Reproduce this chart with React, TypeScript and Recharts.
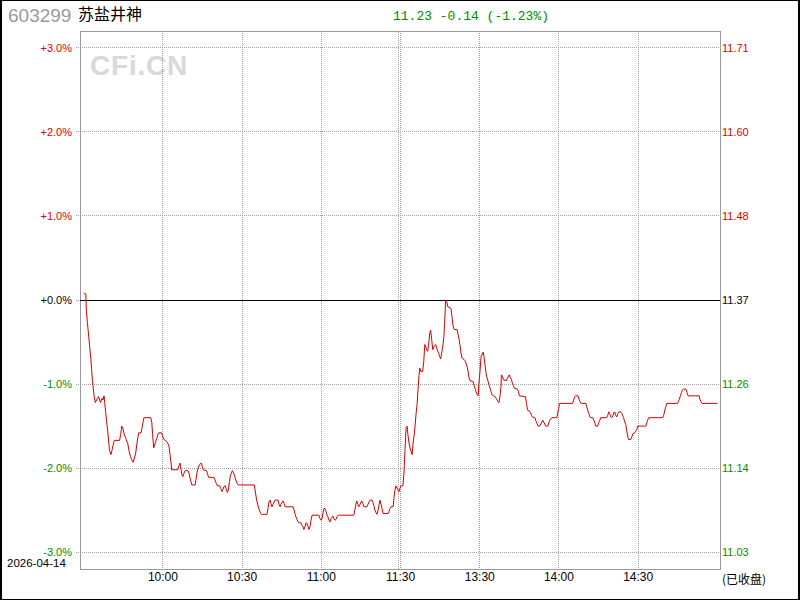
import React from 'react';
import { LineChart, Line, XAxis, YAxis, CartesianGrid, ReferenceLine, ReferenceArea } from 'recharts';

const stockCode = '603299';
const stockName = '苏盐井神';
const tradeDate = '2026-04-14';
const statusText = '(已收盘)';
const watermark = 'CFi.CN';
const prevClose = 11.37;
const lastPrice = 11.23;

const pctTicks = [-3, -2, -1, 0, 1, 2, 3];
const timeTicks = [30, 60, 90, 120, 150, 180, 210];
const timeLabels = ['10:00', '10:30', '11:00', '11:30', '13:30', '14:00', '14:30'];

// [minute index since 9:30 (lunch removed), change % vs previous close]
const morningSession: [number, number][] = [
  [0, 0.08], [0.8, 0.07], [1.0, -0.12], [1.4, -0.27], [1.9, -0.43], [2.3, -0.57], [2.7, -0.69], [3.0, -0.83],
  [3.3, -0.95], [3.7, -1.07], [4.0, -1.15], [4.4, -1.22], [5.2, -1.17], [5.6, -1.15], [6.4, -1.22], [6.9, -1.17],
  [7.3, -1.19], [7.7, -1.14], [8.0, -1.23], [8.3, -1.33], [8.7, -1.45], [9.1, -1.56], [9.5, -1.70], [9.8, -1.79],
  [10.3, -1.84], [10.7, -1.79], [11.1, -1.73], [11.6, -1.67], [13.6, -1.67], [14.0, -1.60], [14.4, -1.50], [14.8, -1.52],
  [15.2, -1.58], [15.6, -1.62], [16.1, -1.66], [16.7, -1.71], [17.2, -1.80], [17.7, -1.86], [18.2, -1.90], [18.7, -1.93],
  [19.2, -1.88], [19.7, -1.82], [20.1, -1.72], [20.5, -1.64], [20.8, -1.58], [21.7, -1.58], [22.1, -1.52], [22.5, -1.45],
  [22.8, -1.40], [25.4, -1.40], [25.8, -1.46], [26.1, -1.60], [26.5, -1.76], [26.9, -1.72], [27.3, -1.68], [27.8, -1.64],
  [28.1, -1.60], [28.5, -1.58], [29.5, -1.58], [29.9, -1.62], [30.4, -1.66], [31.3, -1.68], [31.8, -1.70], [32.3, -1.74],
  [32.7, -1.84], [33.1, -1.94], [33.3, -2.02], [35.6, -2.02], [36.1, -1.97], [36.5, -1.94], [36.8, -2.00], [37.2, -2.08],
  [37.6, -2.10], [38.0, -2.06], [38.4, -2.03], [39.5, -2.03], [39.9, -2.06], [40.3, -2.12], [40.6, -2.16], [41.0, -2.20],
  [42.2, -2.20], [42.5, -2.14], [42.9, -2.06], [43.3, -2.00], [43.8, -1.96], [44.6, -1.94], [44.9, -1.98], [45.3, -2.02],
  [46.5, -2.03], [46.8, -2.06], [47.3, -2.11], [49.3, -2.11], [49.7, -2.14], [50.2, -2.18], [50.6, -2.21], [51.5, -2.21],
  [51.9, -2.24], [52.4, -2.28], [52.8, -2.25], [53.1, -2.22], [53.6, -2.21], [54.0, -2.25], [54.4, -2.29], [54.8, -2.26],
  [55.2, -2.16], [55.5, -2.10], [55.9, -2.06], [56.3, -2.03], [56.8, -2.06], [57.2, -2.10], [57.6, -2.14], [58.1, -2.18],
  [58.6, -2.20], [64.6, -2.20], [65.2, -2.32], [65.5, -2.38], [65.9, -2.43], [66.3, -2.48], [67.0, -2.54], [67.4, -2.55],
  [69.4, -2.55], [69.8, -2.48], [70.2, -2.40], [70.6, -2.38], [70.9, -2.42], [71.3, -2.46], [71.7, -2.43], [72.5, -2.38],
  [73.6, -2.38], [74.0, -2.43], [74.4, -2.46], [74.7, -2.43], [75.5, -2.39], [75.9, -2.42], [76.3, -2.46], [79.3, -2.46],
  [79.7, -2.50], [80.0, -2.54], [80.4, -2.58], [80.8, -2.61], [81.2, -2.64], [81.6, -2.65], [82.3, -2.65], [82.7, -2.68],
  [83.1, -2.70], [83.4, -2.73], [83.8, -2.70], [84.2, -2.65], [84.6, -2.66], [85.0, -2.70], [85.3, -2.73], [85.7, -2.70],
  [86.1, -2.62], [86.5, -2.56], [89.1, -2.56], [89.5, -2.60], [89.9, -2.62], [90.3, -2.60], [90.6, -2.54], [91.0, -2.48],
  [91.4, -2.48], [91.8, -2.52], [92.2, -2.56], [92.5, -2.58], [92.9, -2.62], [93.3, -2.64], [93.7, -2.60], [94.4, -2.57],
  [94.8, -2.60], [95.2, -2.62], [95.6, -2.61], [95.9, -2.58], [96.4, -2.56], [102.3, -2.56], [102.7, -2.50], [103.0, -2.44],
  [103.4, -2.39], [103.8, -2.43], [104.2, -2.46], [104.5, -2.44], [105.3, -2.39], [105.7, -2.42], [106.1, -2.46], [107.3, -2.46],
  [107.7, -2.43], [108.1, -2.40], [108.5, -2.38], [109.2, -2.38], [109.6, -2.41], [110.0, -2.46], [110.3, -2.50], [110.7, -2.53],
  [111.1, -2.55], [111.5, -2.50], [111.9, -2.43], [112.2, -2.38], [112.6, -2.43], [113.0, -2.48], [113.4, -2.54], [115.3, -2.54],
  [115.6, -2.52], [116.0, -2.48], [116.4, -2.46], [117.2, -2.46], [117.5, -2.36], [117.9, -2.26], [118.3, -2.21], [118.7, -2.24],
  [119.4, -2.28], [119.8, -2.24], [120.2, -2.21],
];

const afternoonSession: [number, number][] = [
  [120.9, -2.21], [121.3, -2.06], [121.7, -1.78], [122.1, -1.52], [122.5, -1.50], [122.8, -1.60], [123.2, -1.70], [123.6, -1.76],
  [124.0, -1.80], [124.4, -1.84], [124.7, -1.72], [125.1, -1.62], [125.5, -1.50], [125.9, -1.35], [126.3, -1.23], [126.6, -1.07],
  [127.0, -0.90], [127.3, -0.81], [127.7, -0.85], [128.4, -0.85], [128.8, -0.73], [129.2, -0.53], [129.5, -0.55], [129.9, -0.59],
  [130.3, -0.61], [130.7, -0.51], [131.1, -0.39], [131.4, -0.36], [131.8, -0.47], [132.2, -0.59], [132.9, -0.54], [133.3, -0.53],
  [133.7, -0.57], [134.5, -0.64], [134.8, -0.67], [135.2, -0.70], [135.6, -0.63], [136.0, -0.55], [136.4, -0.45], [136.7, -0.27],
  [137.1, 0.00], [137.5, -0.02], [137.9, -0.08], [139.1, -0.10], [139.5, -0.20], [139.9, -0.31], [140.3, -0.35], [141.4, -0.35],
  [141.8, -0.41], [142.2, -0.47], [142.5, -0.53], [142.9, -0.63], [143.3, -0.69], [144.4, -0.72], [144.8, -0.75], [145.2, -0.79],
  [145.6, -0.85], [145.9, -0.92], [146.3, -0.96], [147.5, -0.97], [147.8, -1.01], [148.2, -1.05], [148.6, -1.09], [149.0, -1.12],
  [149.4, -1.14], [149.7, -0.99], [150.1, -0.85], [150.5, -0.67], [151.3, -0.62], [151.6, -0.67], [152.0, -0.77], [152.4, -0.87],
  [152.8, -0.93], [153.2, -0.97], [153.5, -1.01], [153.9, -1.05], [154.3, -1.09], [154.7, -1.13], [155.8, -1.15], [156.2, -1.17],
  [156.6, -1.19], [156.9, -1.21], [157.3, -1.22], [157.7, -1.14], [158.1, -1.01], [158.2, -0.89], [158.6, -0.91], [159.0, -0.95],
  [160.1, -0.96], [160.5, -0.93], [161.2, -0.89], [161.6, -0.92], [162.0, -0.95], [162.4, -0.99], [162.8, -1.02], [163.1, -1.05],
  [164.3, -1.06], [164.7, -1.09], [165.0, -1.14], [167.3, -1.15], [167.7, -1.23], [168.1, -1.31], [168.8, -1.32], [169.2, -1.34],
  [169.6, -1.37], [169.9, -1.39], [170.9, -1.40], [171.3, -1.44], [171.7, -1.47], [172.1, -1.50], [172.7, -1.50], [173.9, -1.43],
  [175.0, -1.50], [175.8, -1.50], [176.5, -1.43], [177.3, -1.40], [179.2, -1.40], [179.5, -1.35], [179.9, -1.29], [180.2, -1.23],
  [185.1, -1.23], [185.5, -1.20], [185.9, -1.15], [186.3, -1.14], [187.2, -1.14], [187.6, -1.18], [188.0, -1.21], [188.4, -1.23],
  [190.2, -1.23], [190.5, -1.27], [190.9, -1.31], [191.3, -1.35], [191.7, -1.39], [192.1, -1.40], [192.8, -1.40], [193.2, -1.43],
  [193.6, -1.46], [193.9, -1.50], [194.7, -1.50], [195.1, -1.46], [195.5, -1.43], [195.8, -1.40], [198.1, -1.40], [198.5, -1.37],
  [198.9, -1.33], [199.2, -1.35], [199.6, -1.39], [200.0, -1.40], [200.4, -1.38], [200.8, -1.34], [201.1, -1.33], [201.5, -1.37],
  [201.9, -1.39], [202.3, -1.35], [202.7, -1.33], [203.4, -1.33], [203.8, -1.35], [204.2, -1.38], [204.5, -1.40], [204.9, -1.45],
  [205.3, -1.48], [205.7, -1.56], [206.1, -1.63], [206.4, -1.66], [207.2, -1.66], [207.6, -1.63], [208.0, -1.59], [208.7, -1.58],
  [209.1, -1.56], [209.5, -1.54], [209.8, -1.50], [212.9, -1.50], [213.3, -1.46], [213.6, -1.43], [214.0, -1.40], [219.3, -1.40],
  [219.7, -1.37], [220.1, -1.31], [220.5, -1.27], [220.8, -1.23], [224.9, -1.23], [225.2, -1.21], [225.6, -1.18], [226.0, -1.14],
  [226.4, -1.10], [226.8, -1.07], [227.1, -1.06], [228.1, -1.06], [228.5, -1.10], [228.9, -1.14], [233.1, -1.14], [233.4, -1.18],
  [233.8, -1.21], [234.2, -1.23], [240.0, -1.23],
];

const data = [...morningSession, ...afternoonSession].map(([t, p]) => ({ t, p }));

const RED = '#e00000';
const GREEN = '#008c00';
const LINE_RED = '#d40000';
const GRID = '#a0a0a0';
const X_DOMAIN: [number, number] = [-1.4, 241];
const Y_DOMAIN: [number, number] = [-3.2, 3.2];

const colorFor = (v: number) => (v > 0 ? RED : v < 0 ? GREEN : '#000');
const fmtPct = (v: number) => (v > 0 ? '+' : v < 0 ? '-' : '+') + Math.abs(v).toFixed(1) + '%';
const fmtPrice = (v: number) => (prevClose * (1 + v / 100)).toFixed(2);

const LeftTick = (props: any) => {
  const { x, y, payload } = props;
  const v = payload.value as number;
  return (
    <text x={x} y={y} dy={4} textAnchor="end" fontSize={11} fontFamily="Liberation Sans, Arial, sans-serif" fill={colorFor(v)}>
      {fmtPct(v)}
    </text>
  );
};

const RightTick = (props: any) => {
  const { x, y, payload } = props;
  const v = payload.value as number;
  return (
    <text x={x} y={y} dy={4} textAnchor="start" fontSize={11} fontFamily="Liberation Sans, Arial, sans-serif" fill={colorFor(v)}>
      {fmtPrice(v)}
    </text>
  );
};

const TimeTick = (props: any) => {
  const { x, y, payload } = props;
  const i = timeTicks.indexOf(payload.value);
  return (
    <text x={x} y={y} dy="0.71em" textAnchor="middle" fontSize={12} fontFamily="Liberation Sans, Arial, sans-serif" fill="#000">
      {i >= 0 ? timeLabels[i] : ''}
    </text>
  );
};

export default function App() {
  const change = lastPrice - prevClose;
  const changePct = (change / prevClose) * 100;
  const header = `${lastPrice.toFixed(2)} ${change < 0 ? '-' : '+'}${Math.abs(change).toFixed(2)} (${changePct < 0 ? '-' : '+'}${Math.abs(changePct).toFixed(2)}%)`;

  return (
    <div style={{ position: 'absolute', left: 0, top: 0, width: 800, height: 600, background: '#fff', overflow: 'hidden' }}>
      <svg width={800} height={600} style={{ position: 'absolute', left: 0, top: 0 }}>
        <text x={8} y={22} fontSize={19} fontFamily="Liberation Sans, Arial, sans-serif" fill="#9a9a9a">{stockCode}</text>
        <text x={78} y={20} fontSize={16} fontFamily="Noto Sans CJK SC, sans-serif" fill="#000">{stockName}</text>
        <text x={393} y={20} fontSize={13} fontFamily="Liberation Mono, monospace" fill={GREEN}>{header}</text>
        <text x={90} y={75} fontSize={28} fontWeight="bold" letterSpacing={0.8} fontFamily="Liberation Sans, Arial, sans-serif" fill="#d9d9d9">{watermark}</text>
        <text x={7} y={567} fontSize={11.5} fontFamily="Liberation Sans, Arial, sans-serif" fill="#000">{tradeDate}</text>
        <text x={722} y={584} fontSize={12} fontFamily="Noto Sans CJK SC, sans-serif" fill="#000">{statusText}</text>
      </svg>
      <div style={{ position: 'absolute', left: 0, top: 0 }}>
        <LineChart width={800} height={600} data={data} margin={{ top: 31, right: 0, bottom: 1, left: 0 }}>
          <CartesianGrid stroke={GRID} strokeDasharray="1 1" shapeRendering="crispEdges" />
          <XAxis
            dataKey="t"
            type="number"
            domain={X_DOMAIN}
            allowDataOverflow
            ticks={timeTicks}
            interval={0}
            height={30}
            axisLine={false}
            tickLine={false}
            tickSize={0}
            tickMargin={3}
            tick={<TimeTick />}
          />
          <YAxis
            type="number"
            domain={Y_DOMAIN}
            allowDataOverflow
            ticks={pctTicks}
            interval={0}
            width={80}
            axisLine={false}
            tickSize={4}
            tickMargin={4}
            tickLine={{ stroke: GRID, strokeDasharray: '1 1', shapeRendering: 'crispEdges' }}
            tick={<LeftTick />}
          />
          <YAxis
            yAxisId="R"
            orientation="right"
            type="number"
            domain={Y_DOMAIN}
            allowDataOverflow
            ticks={pctTicks}
            interval={0}
            width={80}
            axisLine={false}
            tickLine={false}
            tickSize={0}
            tickMargin={2}
            tick={<RightTick />}
          />
          <ReferenceLine x={119.4} stroke={GRID} strokeDasharray="1 1" shapeRendering="crispEdges" />
          <ReferenceArea x1={X_DOMAIN[0]} x2={X_DOMAIN[1]} y1={Y_DOMAIN[0]} y2={Y_DOMAIN[1]} fill="none" fillOpacity={0} stroke="#999" strokeWidth={1} shapeRendering="crispEdges" />
          <ReferenceLine y={0} stroke="#000" strokeWidth={1} shapeRendering="crispEdges" />
          <Line type="linear" dataKey="p" stroke={LINE_RED} strokeWidth={1} dot={false} activeDot={false} isAnimationActive={false} />
        </LineChart>
      </div>
      <div style={{ position: 'absolute', left: 0, top: 0, width: 800, height: 600, boxSizing: 'border-box', borderStyle: 'solid', borderColor: '#000', borderWidth: '1px 2px 1px 2px', pointerEvents: 'none' }} />
    </div>
  );
}
